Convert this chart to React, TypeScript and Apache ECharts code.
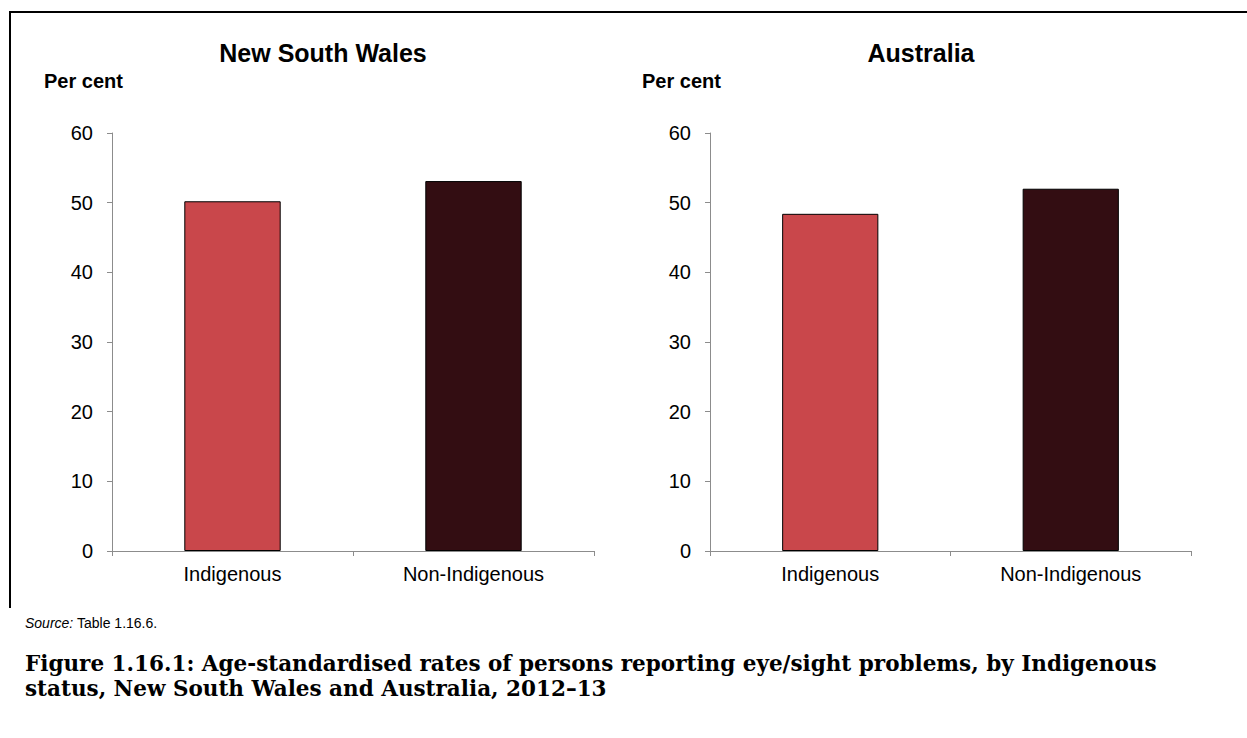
import React, { useEffect, useRef } from "react";
import * as echarts from "echarts";

const categories = ["Indigenous", "Non-Indigenous"];
const nswValues = [50.2, 53.1];
const ausValues = [48.4, 52.0];
const panelTitles = ["New South Wales", "Australia"];
const yTicks = { min: 0, max: 60, interval: 10 };
const barColors = ["#C9474B", "#330D12"];
const sourceLabel = "Source:";
const sourceText = "Table 1.16.6.";
const captionLines = [
  "Figure 1.16.1: Age-standardised rates of persons reporting eye/sight problems, by Indigenous",
  "status, New South Wales and Australia, 2012–13",
];

const SANS = "'Liberation Sans', Arial, sans-serif";

export default function App() {
  const ref = useRef<HTMLDivElement>(null);
  useEffect(() => {
    if (!ref.current) return;
    const chart = echarts.init(ref.current, null, { renderer: "svg" });
    const axisLine = { show: true, lineStyle: { color: "#8C8C8C", width: 1 } };
    const mkX = (gi: number) => ({
      type: "category",
      gridIndex: gi,
      data: categories,
      axisLine,
      axisTick: { show: true, length: 5, lineStyle: { color: "#8C8C8C" } },
      axisLabel: { color: "#000", fontSize: 20, fontFamily: SANS, margin: 13 },
    });
    const mkY = (gi: number) => ({
      type: "value",
      gridIndex: gi,
      min: yTicks.min,
      max: yTicks.max,
      interval: yTicks.interval,
      axisLine,
      axisTick: { show: true, length: 5, lineStyle: { color: "#8C8C8C" } },
      splitLine: { show: false },
      axisLabel: { color: "#000", fontSize: 20, fontFamily: SANS, margin: 19 },
    });
    const mkSeries = (gi: number, vals: number[]) => ({
      type: "bar",
      xAxisIndex: gi,
      yAxisIndex: gi,
      barWidth: "40%",
      data: vals.map((v, i) => ({
        value: v,
        itemStyle: { color: barColors[i], borderColor: "#000", borderWidth: 1 },
      })),
    });
    const txt = (text: string, x: number, y: number, font: string, align = "left") => ({
      type: "text",
      x,
      y,
      style: { text, font, fill: "#000", textAlign: align, textVerticalAlign: "middle" },
    });
    chart.setOption({
      animation: false,
      backgroundColor: "#fff",
      grid: [
        { left: 112, right: 653, top: 133, bottom: 187 },
        { left: 710, right: 56, top: 133, bottom: 187 },
      ],
      xAxis: [mkX(0), mkX(1)],
      yAxis: [mkY(0), mkY(1)],
      series: [mkSeries(0, nswValues), mkSeries(1, ausValues)],
      graphic: [
        { type: "line", shape: { x1: 9, y1: 12, x2: 1247, y2: 12 }, style: { stroke: "#000", lineWidth: 2 } },
        { type: "line", shape: { x1: 10, y1: 11, x2: 10, y2: 608 }, style: { stroke: "#000", lineWidth: 2 } },
        txt(panelTitles[0], 323, 53, `bold 25px ${SANS}`, "center"),
        txt(panelTitles[1], 921, 53, `bold 25px ${SANS}`, "center"),
        txt("Per cent", 44, 81, `bold 20px ${SANS}`),
        txt("Per cent", 642, 81, `bold 20px ${SANS}`),
        txt(sourceLabel, 25, 623, `italic 14px ${SANS}`),
        txt(sourceText, 77, 623, `14px ${SANS}`),
        txt(captionLines[0], 25, 663, `bold 21.5px 'DejaVu Serif', serif`),
        txt(captionLines[1], 25, 688, `bold 21.5px 'DejaVu Serif', serif`),
      ],
    });
    return () => chart.dispose();
  }, []);
  return (
    <div
      ref={ref}
      style={{ position: "absolute", left: 0, top: 0, width: 1247, height: 738 }}
    />
  );
}
